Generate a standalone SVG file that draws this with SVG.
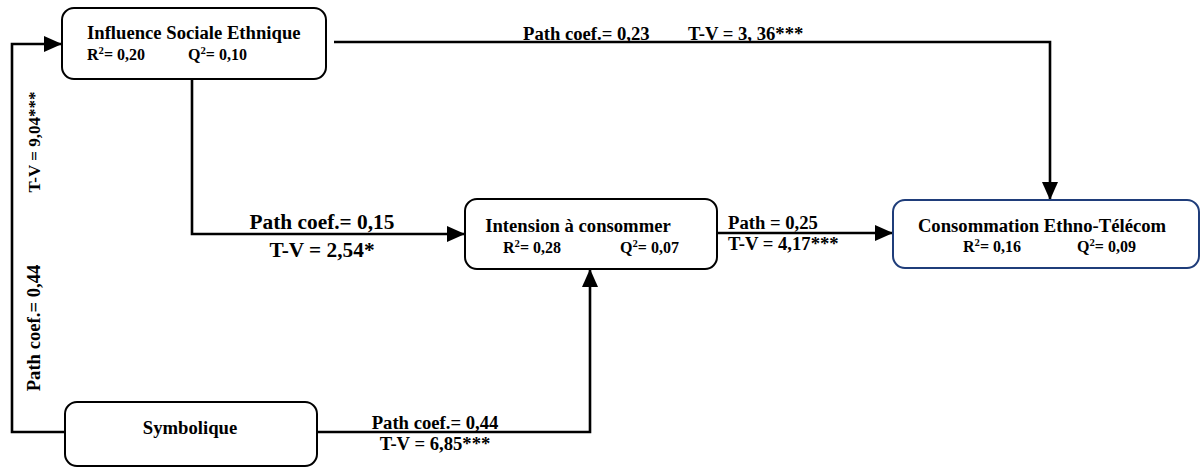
<svg xmlns="http://www.w3.org/2000/svg" width="1201" height="468" viewBox="0 0 1201 468">
  <style>
    .box { fill: #ffffff; stroke: #000000; stroke-width: 2; }
    .box-blue { fill: #ffffff; stroke: #1f3d7a; stroke-width: 2; }
    .wire { fill: none; stroke: #000000; stroke-width: 2.6; }
    .t { font-family: "Liberation Serif", "Times New Roman", serif; font-weight: bold; fill: #000000; }
    .title { font-size: 18.67px; }
    .stat { font-size: 16px; }
    .lbl { font-size: 18.67px; }
    .lbl-v { font-size: 17px; }
    .lbl-big { font-size: 21.33px; }
    .sup { font-size: 10.67px; }
  </style>
  <defs>
    <marker id="arrow" markerUnits="userSpaceOnUse" markerWidth="18" markerHeight="16" refX="18" refY="8" orient="auto">
      <path d="M0,0 L18,8 L0,16 z" fill="#000000"/>
    </marker>
  </defs>

  <!-- connectors -->
  <g id="connectors">
    <polyline class="wire" points="65,432 12,432 12,44 62,44" marker-end="url(#arrow)"/>
    <polyline class="wire" points="334,42 1050,42 1050,200" marker-end="url(#arrow)"/>
    <polyline class="wire" points="192,79 192,234 465,234" marker-end="url(#arrow)"/>
    <polyline class="wire" points="717,233 893,233" marker-end="url(#arrow)"/>
    <polyline class="wire" points="317,432 590,432 590,269" marker-end="url(#arrow)"/>

    <text class="t lbl" x="523" y="40">Path coef.= 0,23</text>
    <text class="t lbl" x="688" y="40">T-V = 3, 36***</text>

    <text class="t lbl-big" x="322" y="229" text-anchor="middle">Path coef.= 0,15</text>
    <text class="t lbl-big" x="322" y="257" text-anchor="middle">T-V = 2,54*</text>

    <text class="t lbl" x="728" y="229">Path = 0,25</text>
    <text class="t lbl" x="728" y="250">T-V = 4,17***</text>

    <text class="t lbl" x="435" y="429" text-anchor="middle">Path coef.= 0,44</text>
    <text class="t lbl" x="435" y="450" text-anchor="middle">T-V = 6,85***</text>

    <text class="t lbl-v" transform="translate(40,142) rotate(-90)" text-anchor="middle">T-V = 9,04***</text>
    <text class="t lbl" transform="translate(40,328) rotate(-90)" text-anchor="middle">Path coef.= 0,44</text>
  </g>

  <!-- Influence Sociale Ethnique -->
  <g id="influence">
    <rect class="box" x="62" y="8" width="264" height="71" rx="12"/>
    <text class="t title" x="87" y="39">Influence Sociale Ethnique</text>
    <text class="t stat" x="87" y="60">R<tspan class="sup" dy="-6">2</tspan><tspan dy="6">= 0,20</tspan></text>
    <text class="t stat" x="188" y="60">Q<tspan class="sup" dy="-6">2</tspan><tspan dy="6">= 0,10</tspan></text>
  </g>

  <!-- Intension à consommer -->
  <g id="intension">
    <rect class="box" x="465" y="199" width="252" height="70" rx="12"/>
    <text class="t title" x="578" y="232" text-anchor="middle">Intension à consommer</text>
    <text class="t stat" x="503" y="253">R<tspan class="sup" dy="-6">2</tspan><tspan dy="6">=  0,28</tspan></text>
    <text class="t stat" x="620" y="253">Q<tspan class="sup" dy="-6">2</tspan><tspan dy="6">= 0,07</tspan></text>
  </g>

  <!-- Consommation Ethno-Télécom -->
  <g id="consommation">
    <rect class="box-blue" x="893" y="200" width="306" height="68" rx="12"/>
    <text class="t title" x="1042" y="232" text-anchor="middle">Consommation Ethno-Télécom</text>
    <text class="t stat" x="963" y="252">R<tspan class="sup" dy="-6">2</tspan><tspan dy="6">=  0,16</tspan></text>
    <text class="t stat" x="1077" y="252">Q<tspan class="sup" dy="-6">2</tspan><tspan dy="6">= 0,09</tspan></text>
  </g>

  <!-- Symbolique -->
  <g id="symbolique">
    <rect class="box" x="65" y="402" width="252" height="64" rx="12"/>
    <text class="t title" x="190" y="434" text-anchor="middle">Symbolique</text>
  </g>
</svg>
